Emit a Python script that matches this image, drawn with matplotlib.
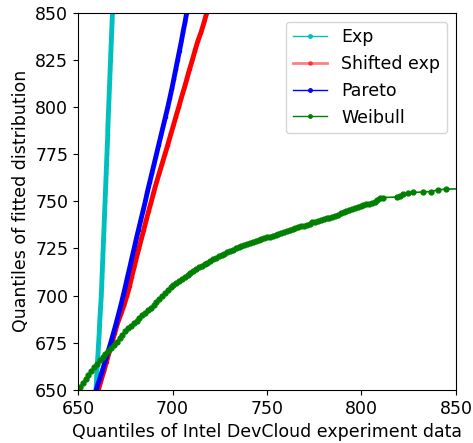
import matplotlib
matplotlib.use("Agg")
import matplotlib.pyplot as plt

# quantile pairs (x = experiment data, y = fitted distribution)
exp_y = [645, 650, 655, 660, 665, 670, 675, 680, 685, 690, 695, 700, 705, 710, 715,
         720, 725, 730, 735, 740, 745, 750, 755, 760, 765, 770, 775, 780, 785, 790,
         795, 800, 805, 810, 815, 820, 825, 830, 835, 840, 845, 850, 855, 860]
exp_x = [659.2, 659.5, 659.8, 660.0, 660.3, 660.6, 660.9, 661.2, 661.4, 661.7, 662.0,
         662.3, 662.5, 662.7, 662.9, 663.1, 663.3, 663.5, 663.7, 663.9, 664.1, 664.3,
         664.5, 664.7, 664.9, 665.1, 665.3, 665.5, 665.7, 665.8, 666.0, 666.2, 666.4,
         666.6, 666.8, 667.0, 667.2, 667.4, 667.6, 667.8, 668.0, 668.2, 668.4, 668.6]

sexp_y = [650, 655, 660, 665, 670, 675, 680, 685, 690, 695, 700, 705, 710, 715, 720,
          725, 730, 735, 740, 745, 750, 755, 760, 765, 770, 775, 780, 785, 790, 795,
          800, 805, 810, 815, 820, 825, 830, 835, 840, 845, 850, 855]
sexp_x = [660.8, 662.2, 663.7, 665.1, 666.5, 668.0, 669.4, 670.8, 672.6, 674.4, 675.9,
          677.3, 678.4, 679.7, 680.9, 682.2, 683.5, 684.8, 686.1, 687.4, 688.8, 690.1,
          691.5, 693.0, 694.5, 696.0, 697.5, 698.9, 700.4, 701.8, 703.3, 704.7, 706.2,
          707.6, 709.0, 710.5, 711.9, 713.4, 715.2, 716.7, 718.1, 719.5]

pareto_y = [650, 655, 660, 665, 670, 675, 680, 685, 690, 695, 700, 705, 710, 715, 720,
            725, 730, 735, 740, 745, 750, 755, 760, 765, 770, 775, 780, 785, 790, 795,
            800, 805, 810, 815, 820, 825, 830, 835, 840, 845, 850, 855]
pareto_x = [659.6, 661.2, 662.8, 664.3, 665.8, 667.3, 668.7, 670.1, 671.4, 672.7, 673.9,
            675.1, 676.2, 677.4, 678.5, 679.7, 680.8, 682.0, 683.2, 684.4, 685.6, 686.7,
            687.9, 689.1, 690.3, 691.5, 692.7, 693.9, 695.1, 696.3, 697.5, 698.6, 699.7,
            700.7, 701.7, 702.7, 703.7, 704.7, 705.6, 706.6, 707.5, 708.7]

weibull_x = [650.0, 651.0, 652.5, 654.0, 655.5, 657.0, 658.5, 660.0, 661.5, 663.0,
             664.5, 666.0, 667.5, 669.0, 670.5, 672.0, 673.5, 675.0, 676.5, 678.0,
             679.5, 681.0, 682.5, 684.0, 685.5, 687.0, 688.5, 690.0, 691.5, 693.0,
             694.5, 696.0, 697.5, 699.0, 700.5, 702.0, 703.5, 705.0, 706.5, 708.0,
             709.5, 711.0, 712.5, 714.0, 715.5, 717.0, 718.5, 720.0, 721.5, 723.0,
             724.5, 726.0, 727.5, 729.0, 730.5, 732.0, 733.5, 735.0, 736.5, 738.0,
             739.5, 741.0, 742.5, 744.0, 745.5, 747.0, 748.5, 750.0, 751.5, 753.0,
             754.5, 756.0, 757.5, 759.0, 760.5, 762.0, 763.5, 765.0, 766.5, 768.0,
             769.5, 771.0, 772.5, 774.0, 775.5, 777.0, 778.5, 780.0, 781.5, 783.0,
             784.5, 786.0, 787.5, 789.0, 790.5, 792.0, 793.5, 795.0, 796.5, 798.0,
             799.5, 801.0, 802.5, 804.0, 805.5, 807.0, 808.4, 809.8, 811.5, 818.6,
             820.3, 822.1, 824.7, 827.4, 832.7, 836.6, 840.6, 844.7, 870.0]
weibull_y = [650.0, 651.5, 653.8, 656.0, 658.0, 660.0, 662.0, 663.8, 665.6, 667.3,
             669.0, 670.6, 672.2, 673.9, 675.6, 677.4, 679.3, 681.2, 682.6, 684.0,
             685.3, 686.7, 688.2, 689.7, 691.0, 692.3, 693.6, 694.9, 696.5, 698.1,
             699.7, 701.4, 703.0, 704.5, 705.7, 706.8, 707.8, 708.8, 709.8, 710.8,
             711.8, 712.8, 713.9, 715.0, 715.9, 716.7, 717.5, 718.4, 719.3, 720.1,
             720.9, 721.6, 722.3, 723.0, 723.7, 724.4, 725.0, 725.6, 726.2, 726.8,
             727.4, 728.0, 728.6, 729.1, 729.6, 730.1, 730.5, 730.9, 731.3, 731.7,
             732.2, 732.7, 733.3, 733.8, 734.3, 734.9, 735.4, 735.9, 736.3, 736.7,
             737.1, 737.5, 738.2, 738.8, 739.3, 739.7, 740.1, 740.5, 740.9, 741.3,
             741.7, 742.3, 743.0, 743.6, 744.2, 744.8, 745.4, 746.0, 746.6, 747.1,
             747.6, 748.0, 748.4, 748.8, 749.3, 749.9, 750.8, 751.7, 752.0, 752.3,
             752.9, 753.8, 754.4, 754.7, 755.0, 755.2, 756.1, 756.5, 757.0]

fig = plt.figure(figsize=(4.73, 4.43), dpi=100)
ax = fig.add_axes([0.165, 0.12, 0.799, 0.851])

# dense quantile points render as a thick line in the original
ax.plot(exp_x, exp_y, color="c", marker=".", ms=3, lw=3.5, label="Exp")
ax.plot(sexp_x, sexp_y, color="r", marker=".", ms=3, lw=3.5, label="Shifted exp")
ax.plot(pareto_x, pareto_y, color="b", marker=".", ms=3, lw=3.5, label="Pareto")
ax.plot(weibull_x, weibull_y, color="g", marker=".", ms=7, lw=1.2, label="Weibull")

ax.set_xlim(650, 850)
ax.set_ylim(650, 850)
ax.tick_params(labelsize=12.5)
ax.set_xlabel("Quantiles of Intel DevCloud experiment data", fontsize=12.5)
ax.set_ylabel("Quantiles of fitted distribution", fontsize=12.5)
leg = ax.legend(loc="upper right", fontsize=12.5)
for line in leg.get_lines():
    line.set_linewidth(1)
    line.set_markersize(5)
leg.get_lines()[1].set_linewidth(2)
leg.get_lines()[1].set_alpha(0.5)

plt.savefig("out.png", dpi=100)
plt.close()
